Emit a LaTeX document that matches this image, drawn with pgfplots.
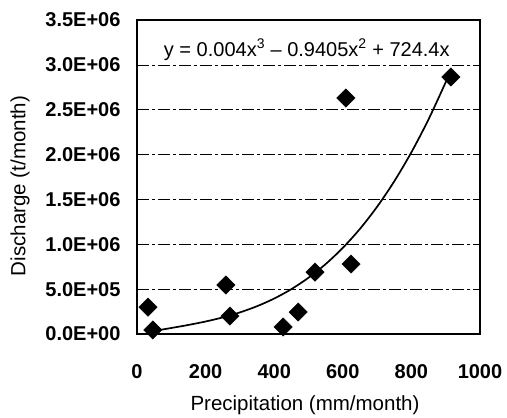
\documentclass[border=0pt]{standalone}
\usepackage{fontspec}
\setmainfont{Liberation Sans}
\usepackage{pgfplots}
\pgfplotsset{compat=1.18}
\begin{document}
\begin{tikzpicture}[x=1pt,y=1pt]
\useasboundingbox (0,0) rectangle (507,418);
\begin{axis}[
  at={(137pt,84pt)}, anchor=south west,
  scale only axis, width=343pt, height=314pt,
  xmin=0, xmax=1000, ymin=0, ymax=3500000,
  xtick={0,200,400,600,800,1000},
  xticklabels={0,200,400,600,800,1000},
  ytick={0,500000,1000000,1500000,2000000,2500000,3000000,3500000},
  yticklabels={0.0E+00,5.0E+05,1.0E+06,1.5E+06,2.0E+06,2.5E+06,3.0E+06,3.5E+06},
  scaled y ticks=false,
  /pgf/number format/assume math mode=true,
  tick style={draw=none},
  ticklabel style={font=\fontsize{20}{22}\selectfont\bfseries},
  xticklabel style={yshift=-27pt},
  yticklabel style={xshift=-13pt},
  ymajorgrids,
  major grid style={black, line width=0.6pt, dash pattern=on 12pt off 3pt on 3pt off 3pt},
  axis line style={line width=2.5pt},
  clip=false,
]
\addplot[only marks, mark=square*, mark size=6.5pt, mark options={rotate=45, fill=black}] coordinates {
  (32,300000) (46,45000) (259,546000) (271,200000) (426,78000)
  (470,245000) (519,690000) (624,780000) (609,2630000) (915,2865000)
};
\addplot[black, line width=1.7pt, smooth] coordinates {
  (40,27727) (50,34369) (100,67035) (150,100999) (200,139260) (250,184819)
  (300,240675) (350,309829) (400,395280) (450,500029) (500,627075)
  (550,779419) (600,960060) (650,1171999) (700,1418235) (750,1701769)
  (800,2025600) (850,2392729) (900,2806155) (915,2939660)
};
\node[font=\fontsize{20}{22}\selectfont] at (axis cs:495,3170000) {y = 0.004x\textsuperscript{3} -- 0.9405x\textsuperscript{2} + 724.4x};
\end{axis}
\node[rotate=90, font=\fontsize{20.5}{22}\selectfont] at (20,232) {Discharge (t/month)};
\node[font=\fontsize{20.5}{22}\selectfont] at (305,13) {Precipitation (mm/month)};
\end{tikzpicture}
\end{document}
